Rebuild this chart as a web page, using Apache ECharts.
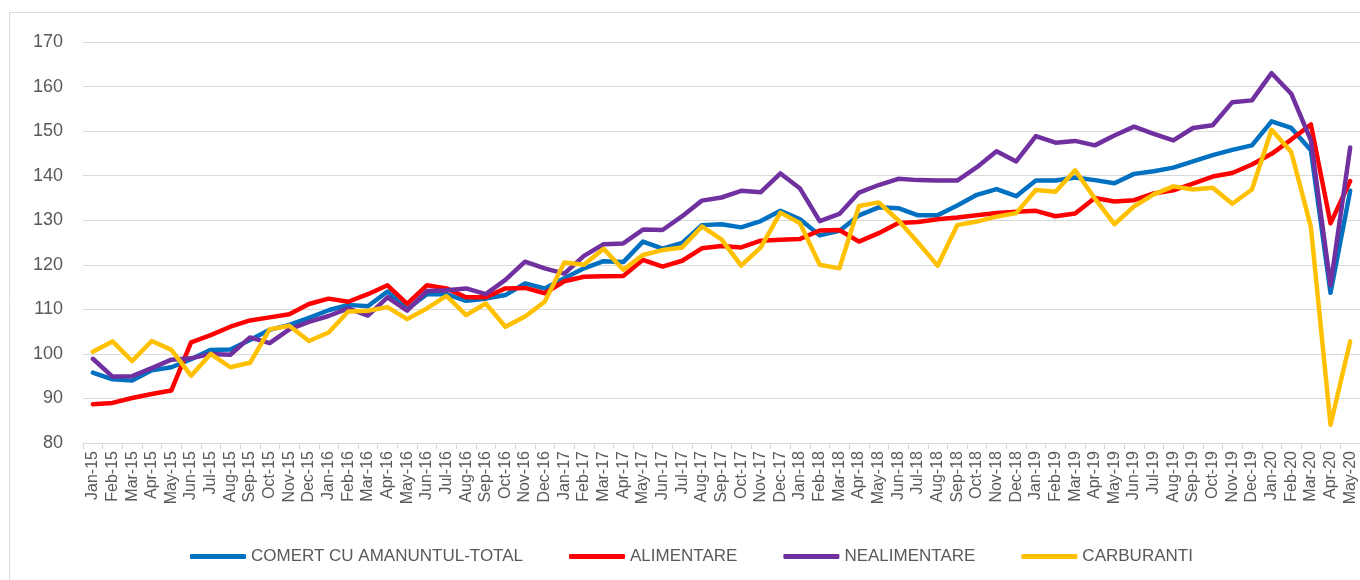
<!DOCTYPE html>
<html>
<head>
<meta charset="utf-8">
<script src="https://cdn.jsdelivr.net/npm/echarts@6/dist/echarts.min.js"></script>
<style>
html,body{margin:0;padding:0;background:#fff;}
#c{width:1360px;height:580px;}
</style>
</head>
<body>
<div id="c"></div>
<script>
const months = ['Jan','Feb','Mar','Apr','May','Jun','Jul','Aug','Sep','Oct','Nov','Dec'];
const categories = [];
for (let y = 15; y <= 20; y++) {
  for (let m = 0; m < 12; m++) {
    if (y === 20 && m > 4) break;
    categories.push(months[m] + '-' + y);
  }
}

const total = [
  95.8, 94.3, 94.0, 96.3, 97.0, 98.8, 100.9, 101.0, 103.1, 105.4, 106.5, 108.1,
  109.8, 111.0, 110.7, 114.0, 110.0, 113.4, 113.4, 111.9, 112.4, 113.2, 115.8, 114.7,
  117.0, 119.2, 120.8, 120.6, 125.2, 123.6, 124.9, 128.9, 129.1, 128.4, 129.8, 132.1,
  130.2, 126.6, 127.6, 131.1, 132.9, 132.7, 131.1, 131.1, 133.3, 135.7, 137.0, 135.4,
  138.9, 138.9, 139.6, 139.0, 138.3, 140.4, 141.0, 141.8, 143.2, 144.6, 145.8, 146.8,
  152.2, 150.7, 145.7, 113.7, 136.6
];
const alimentare = [
  88.7, 89.0, 90.1, 91.0, 91.8, 102.6, 104.2, 106.1, 107.5, 108.2, 108.9, 111.2,
  112.4, 111.7, 113.4, 115.4, 111.2, 115.4, 114.7, 112.7, 112.7, 114.7, 114.8, 113.6,
  116.3, 117.3, 117.4, 117.5, 121.1, 119.6, 120.9, 123.7, 124.2, 123.9, 125.4, 125.6,
  125.8, 127.7, 127.8, 125.2, 127.1, 129.4, 129.6, 130.2, 130.6, 131.1, 131.6, 131.9,
  132.1, 130.9, 131.5, 135.0, 134.2, 134.5, 136.0, 136.7, 138.2, 139.8, 140.6, 142.5,
  144.9, 148.1, 151.5, 129.3, 138.8
];
const nealimentare = [
  98.9, 94.9, 95.0, 96.8, 98.7, 99.0, 100.0, 99.8, 103.7, 102.4, 105.5, 107.2,
  108.5, 110.2, 108.6, 112.7, 109.7, 114.1, 114.3, 114.7, 113.4, 116.6, 120.7, 119.2,
  118.0, 122.0, 124.6, 124.8, 127.9, 127.8, 130.9, 134.4, 135.1, 136.6, 136.3, 140.5,
  137.1, 129.8, 131.4, 136.2, 137.9, 139.3, 139.0, 138.9, 138.9, 141.9, 145.5, 143.2,
  148.9, 147.4, 147.8, 146.8, 149.0, 151.0, 149.4, 147.9, 150.7, 151.3, 156.5, 156.9,
  163.0, 158.4, 147.9, 115.4, 146.3
];
const carburanti = [
  100.5, 102.8, 98.4, 102.9, 100.9, 95.1, 100.0, 97.0, 98.0, 105.5, 106.3, 102.9,
  104.8, 109.5, 109.7, 110.5, 107.8, 110.2, 113.0, 108.7, 111.3, 106.1, 108.4, 111.7,
  120.5, 120.0, 123.6, 118.9, 122.2, 123.3, 123.9, 128.6, 125.7, 119.8, 123.9, 131.7,
  129.3, 120.0, 119.2, 133.2, 134.0, 130.0, 125.0, 119.8, 128.9, 129.7, 130.8, 131.6,
  136.8, 136.4, 141.2, 134.9, 129.1, 133.1, 135.8, 137.6, 136.9, 137.3, 133.7, 136.9,
  150.3, 145.3, 128.5, 84.1, 102.8
];
const seriesNames = ['COMERT CU AMANUNTUL-TOTAL', 'ALIMENTARE', 'NEALIMENTARE', 'CARBURANTI'];
const seriesColors = ['#0070C0', '#FF0000', '#7030A0', '#FFC000'];
const seriesData = [total, alimentare, nealimentare, carburanti];

const chart = echarts.init(document.getElementById('c'), null, {renderer: 'canvas'});
const font = '"Liberation Sans", Arial, sans-serif';
chart.setOption({
  animation: false,
  textStyle: {fontFamily: font},
  graphic: [{
    type: 'rect',
    shape: {x: 9.5, y: 12.5, width: 1400, height: 620},
    style: {fill: 'none', stroke: '#d9d9d9', lineWidth: 1},
    silent: true
  }],
  grid: {left: 83, top: 42, width: 1280, height: 401, containLabel: false},
  legend: {
    left: 185,
    top: 543,
    itemWidth: 56,
    itemHeight: 5,
    itemGap: 46,
    icon: 'roundRect',
    textStyle: {color: '#595959', fontSize: 17, fontFamily: font},
    data: seriesNames
  },
  xAxis: {
    type: 'category',
    data: categories,
    boundaryGap: true,
    axisLine: {lineStyle: {color: '#d9d9d9', width: 1}},
    axisTick: {show: true, length: 6, interval: 0, lineStyle: {color: '#d9d9d9'}},
    axisLabel: {interval: 0, rotate: 90, color: '#595959', fontSize: 16, margin: 8, fontFamily: font},
    splitLine: {show: false}
  },
  yAxis: {
    type: 'value',
    min: 80,
    max: 170,
    interval: 10,
    axisLine: {show: false},
    axisTick: {show: false},
    axisLabel: {color: '#595959', fontSize: 18, margin: 20, fontFamily: font},
    splitLine: {lineStyle: {color: '#d9d9d9', width: 1.2}}
  },
  series: seriesNames.map((n, i) => ({
    name: n,
    type: 'line',
    data: seriesData[i],
    showSymbol: false,
    symbol: 'none',
    smooth: false,
    color: seriesColors[i],
    lineStyle: {color: seriesColors[i], width: 4.5, cap: 'round', join: 'round'}
  }))
});
</script>
</body>
</html>
